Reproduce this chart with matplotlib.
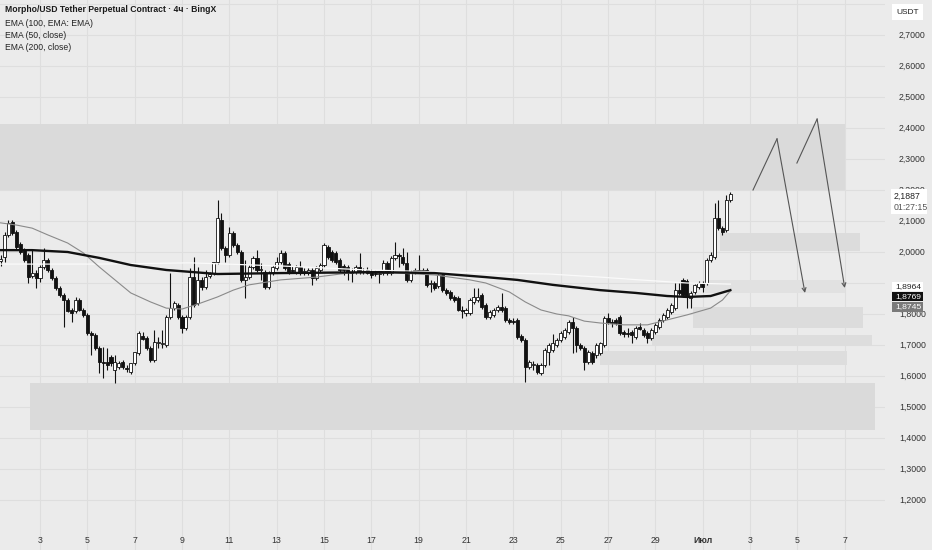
import numpy as np
import pandas as pd
import matplotlib
matplotlib.use('Agg')
import matplotlib.pyplot as plt
import matplotlib.dates as mdates
from matplotlib.patches import Rectangle
from matplotlib.transforms import blended_transform_factory

plt.rcParams['font.family'] = ['Liberation Sans', 'DejaVu Sans']

# 4h candles, Morpho/USDT perp (BingX)
opens = [
    1.971, 1.984, 2.055, 2.097, 2.065, 2.026, 2.006, 1.990, 1.923, 1.932,
    1.916, 1.952, 1.974, 1.942, 1.916, 1.884, 1.861, 1.845, 1.813, 1.810,
    1.845, 1.813, 1.797, 1.739, 1.732, 1.690, 1.645, 1.645, 1.661, 1.619,
    1.629, 1.645, 1.626, 1.613, 1.642, 1.674, 1.729, 1.723, 1.690, 1.652,
    1.706, 1.703, 1.700, 1.790, 1.819, 1.829, 1.790, 1.755, 1.790, 1.919,
    1.835, 1.910, 1.887, 1.923, 1.932, 1.968, 2.103, 2.013, 1.990, 2.061,
    2.023, 2.000, 1.910, 1.919, 1.952, 1.981, 1.942, 1.935, 1.887, 1.932,
    1.948, 1.968, 1.997, 1.961, 1.942, 1.935, 1.952, 1.935, 1.932, 1.942,
    1.916, 1.942, 1.958, 2.016, 2.000, 1.997, 1.974, 1.955, 1.952, 1.935,
    1.935, 1.952, 1.939, 1.942, 1.935, 1.932, 1.929, 1.932, 1.965, 1.932,
    1.981, 1.990, 1.984, 1.965, 1.910, 1.939, 1.942, 1.939, 1.942, 1.897,
    1.900, 1.890, 1.926, 1.877, 1.871, 1.855, 1.852, 1.813, 1.803, 1.803,
    1.839, 1.845, 1.861, 1.829, 1.790, 1.797, 1.813, 1.823, 1.819, 1.781,
    1.777, 1.781, 1.729, 1.716, 1.629, 1.635, 1.635, 1.610, 1.635, 1.677,
    1.684, 1.700, 1.716, 1.726, 1.742, 1.774, 1.755, 1.700, 1.690, 1.645,
    1.674, 1.668, 1.674, 1.700, 1.787, 1.774, 1.781, 1.790, 1.742, 1.739,
    1.742, 1.726, 1.758, 1.748, 1.739, 1.723, 1.742, 1.758, 1.781, 1.790,
    1.806, 1.819, 1.877, 1.910, 1.906, 1.852, 1.871, 1.887, 1.900, 1.900,
    1.974, 1.984, 2.110, 2.077, 2.071, 2.168]
highs = [
    1.990, 2.065, 2.103, 2.103, 2.071, 2.032, 2.013, 1.997, 2.006, 1.942,
    1.958, 2.013, 1.981, 1.948, 1.923, 1.890, 1.868, 1.852, 1.819, 1.855,
    1.852, 1.819, 1.803, 1.745, 1.739, 1.697, 1.694, 1.690, 1.668, 1.668,
    1.648, 1.652, 1.635, 1.642, 1.677, 1.745, 1.742, 1.729, 1.697, 1.748,
    1.726, 1.748, 1.797, 1.932, 1.842, 1.835, 1.797, 1.797, 1.948, 1.984,
    1.952, 1.919, 1.942, 1.935, 1.968, 2.168, 2.126, 2.019, 2.081, 2.068,
    2.029, 2.006, 1.974, 1.958, 1.987, 2.006, 1.965, 1.942, 1.939, 1.958,
    1.984, 2.006, 2.003, 1.968, 1.955, 1.958, 1.971, 1.948, 1.948, 1.948,
    1.955, 1.965, 2.029, 2.023, 2.006, 2.003, 1.981, 1.961, 1.958, 1.948,
    1.958, 1.997, 1.948, 1.952, 1.945, 1.942, 1.939, 1.974, 1.971, 1.987,
    2.032, 1.997, 2.013, 2.000, 1.942, 1.948, 1.990, 1.948, 1.948, 1.910,
    1.906, 1.929, 1.932, 1.884, 1.877, 1.861, 1.858, 1.826, 1.819, 1.852,
    1.884, 1.884, 1.868, 1.835, 1.813, 1.819, 1.829, 1.868, 1.826, 1.787,
    1.787, 1.787, 1.735, 1.723, 1.652, 1.648, 1.642, 1.642, 1.690, 1.706,
    1.735, 1.723, 1.745, 1.755, 1.781, 1.790, 1.761, 1.706, 1.697, 1.684,
    1.681, 1.706, 1.710, 1.794, 1.803, 1.784, 1.787, 1.797, 1.748, 1.755,
    1.748, 1.761, 1.771, 1.755, 1.745, 1.755, 1.771, 1.787, 1.803, 1.819,
    1.835, 1.900, 1.900, 1.916, 1.913, 1.874, 1.897, 1.906, 1.906, 1.981,
    2.000, 2.158, 2.168, 2.084, 2.184, 2.194]
lows = [
    1.955, 1.968, 2.048, 2.055, 2.006, 1.994, 1.968, 1.900, 1.916, 1.884,
    1.903, 1.945, 1.935, 1.910, 1.877, 1.855, 1.758, 1.806, 1.774, 1.803,
    1.810, 1.790, 1.732, 1.668, 1.684, 1.610, 1.594, 1.619, 1.632, 1.577,
    1.623, 1.623, 1.613, 1.606, 1.635, 1.668, 1.716, 1.684, 1.645, 1.645,
    1.690, 1.690, 1.694, 1.784, 1.813, 1.784, 1.739, 1.748, 1.784, 1.823,
    1.829, 1.877, 1.881, 1.916, 1.926, 1.961, 2.006, 1.968, 1.984, 2.016,
    1.994, 1.903, 1.852, 1.913, 1.945, 1.935, 1.910, 1.881, 1.881, 1.926,
    1.942, 1.961, 1.942, 1.929, 1.932, 1.929, 1.926, 1.926, 1.926, 1.894,
    1.910, 1.935, 1.952, 1.977, 1.968, 1.961, 1.935, 1.926, 1.910, 1.903,
    1.929, 1.929, 1.929, 1.929, 1.916, 1.923, 1.900, 1.926, 1.926, 1.926,
    1.974, 1.952, 1.958, 1.903, 1.903, 1.929, 1.932, 1.929, 1.887, 1.871,
    1.877, 1.884, 1.871, 1.861, 1.845, 1.839, 1.810, 1.787, 1.794, 1.797,
    1.832, 1.839, 1.816, 1.784, 1.784, 1.790, 1.806, 1.806, 1.774, 1.768,
    1.768, 1.719, 1.710, 1.581, 1.623, 1.619, 1.606, 1.603, 1.629, 1.635,
    1.677, 1.694, 1.710, 1.719, 1.735, 1.674, 1.677, 1.684, 1.619, 1.639,
    1.639, 1.658, 1.668, 1.694, 1.768, 1.758, 1.765, 1.732, 1.726, 1.726,
    1.706, 1.719, 1.748, 1.726, 1.706, 1.716, 1.735, 1.752, 1.774, 1.784,
    1.800, 1.813, 1.861, 1.855, 1.819, 1.819, 1.864, 1.881, 1.871, 1.894,
    1.968, 1.977, 2.071, 2.055, 2.065, 2.161]
closes = [
    1.977, 2.055, 2.094, 2.061, 2.016, 2.000, 1.974, 1.919, 1.932, 1.916,
    1.952, 1.974, 1.942, 1.916, 1.884, 1.861, 1.845, 1.810, 1.803, 1.845,
    1.813, 1.797, 1.739, 1.732, 1.690, 1.645, 1.642, 1.635, 1.642, 1.645,
    1.642, 1.629, 1.623, 1.642, 1.677, 1.739, 1.719, 1.690, 1.652, 1.710,
    1.710, 1.706, 1.790, 1.819, 1.835, 1.790, 1.755, 1.790, 1.919, 1.829,
    1.910, 1.887, 1.919, 1.929, 1.968, 2.110, 2.013, 1.990, 2.061, 2.023,
    2.000, 1.910, 1.919, 1.952, 1.981, 1.942, 1.945, 1.887, 1.932, 1.952,
    1.968, 1.997, 1.948, 1.935, 1.939, 1.952, 1.932, 1.939, 1.942, 1.916,
    1.948, 1.958, 2.023, 1.984, 1.974, 1.968, 1.942, 1.942, 1.935, 1.932,
    1.952, 1.935, 1.935, 1.932, 1.926, 1.929, 1.932, 1.965, 1.932, 1.981,
    1.990, 1.987, 1.965, 1.910, 1.935, 1.942, 1.939, 1.942, 1.894, 1.900,
    1.884, 1.926, 1.877, 1.868, 1.852, 1.845, 1.813, 1.810, 1.813, 1.845,
    1.855, 1.855, 1.823, 1.790, 1.806, 1.813, 1.823, 1.813, 1.781, 1.774,
    1.774, 1.726, 1.716, 1.629, 1.645, 1.639, 1.613, 1.635, 1.684, 1.700,
    1.706, 1.716, 1.739, 1.748, 1.774, 1.755, 1.700, 1.690, 1.645, 1.677,
    1.645, 1.700, 1.706, 1.787, 1.774, 1.771, 1.771, 1.739, 1.735, 1.735,
    1.732, 1.755, 1.752, 1.732, 1.723, 1.748, 1.765, 1.781, 1.797, 1.813,
    1.829, 1.877, 1.868, 1.861, 1.855, 1.868, 1.894, 1.900, 1.887, 1.974,
    1.990, 2.110, 2.077, 2.065, 2.168, 2.1887]

# EMA lines (candle index, value)
ema200_idx = [0, 8, 17, 25, 33, 42, 55, 71, 96, 110, 123, 131, 140, 152, 161, 169, 174, 180, 185]
ema200_val = [2.006, 2.006, 2.000, 1.981, 1.958, 1.942, 1.929, 1.932, 1.935, 1.932, 1.919,
              1.910, 1.894, 1.877, 1.868, 1.858, 1.855, 1.858, 1.8769]
ema50_idx = [0, 4, 8, 12, 17, 21, 25, 29, 33, 38, 42, 46, 50, 55, 59, 63, 71, 80, 88, 96,
             110, 119, 123, 129, 133, 137, 141, 144, 148, 152, 158, 164, 169, 174, 180, 183, 185]
ema50_val = [2.094, 2.087, 2.077, 2.055, 2.029, 1.997, 1.952, 1.910, 1.868, 1.839, 1.819,
             1.816, 1.832, 1.855, 1.877, 1.894, 1.910, 1.919, 1.932, 1.935, 1.926, 1.910,
             1.900, 1.871, 1.839, 1.813, 1.800, 1.794, 1.777, 1.771, 1.765, 1.765, 1.781,
             1.797, 1.819, 1.845, 1.8745]
ema100_idx = [0, 25, 48, 71, 93, 114, 139, 152, 162, 174, 185]
ema100_val = [1.961, 1.961, 1.965, 1.955, 1.942, 1.935, 1.929, 1.919, 1.910, 1.900, 1.8964]

# shaded zones: (start, end, low, high)
zones = [
    ('2025-05-31 00:00', '2025-07-07 00:00', 2.200, 2.413, '#dadada'),
    ('2025-07-01 17:30', '2025-07-07 15:20', 2.003, 2.061, '#dcdcdc'),
    ('2025-07-01 02:00', '2025-07-07 00:00', 1.868, 1.910, '#e1e1e1'),
    ('2025-06-30 14:00', '2025-07-07 18:30', 1.755, 1.823, '#dcdcdc'),
    ('2025-06-28 20:40', '2025-07-08 03:30', 1.697, 1.732, '#dddddd'),
    ('2025-06-26 16:00', '2025-07-07 02:00', 1.635, 1.681, '#dddddd'),
    ('2025-06-02 14:00', '2025-07-08 06:45', 1.426, 1.577, '#dadada'),
]

# projected moves
path1_t = ['2025-07-03 03:00', '2025-07-04 03:20', '2025-07-05 07:40']
path1_p = [2.200, 2.365, 1.868]
path2_t = ['2025-07-04 23:30', '2025-07-05 20:00', '2025-07-07 00:00']
path2_p = [2.287, 2.429, 1.884]

tick_dates = ['2025-06-%02d' % d for d in range(3, 30, 2)] + ['2025-07-01', '2025-07-03', '2025-07-05', '2025-07-07']
tick_labels = [str(d) for d in range(3, 30, 2)] + ['Июл', '3', '5', '7']
price_levels = [round(1.2 + 0.1 * k, 1) for k in range(16)]
hidden_levels = [1.9]   # covered by the EMA value tags

times = mdates.date2num(pd.date_range('2025-06-01 08:00', periods=len(closes), freq='4h'))
o = np.array(opens); h = np.array(highs); l = np.array(lows); c = np.array(closes)

bg = '#ebebeb'
fig = plt.figure(figsize=(9.32, 5.5), dpi=100)
fig.patch.set_facecolor(bg)
ax = fig.add_axes([0, 0, 885 / 932, 1])
ax.set_facecolor(bg)
for s in ax.spines.values():
    s.set_visible(False)
ax.set_xticks([])
ax.set_yticks([])
ax.set_xlim(mdates.date2num(pd.Timestamp('2025-06-01 07:26')), mdates.date2num(pd.Timestamp('2025-07-08 16:50')))
ax.set_ylim(1.0387, 2.8129)

# grid
for d in tick_dates:
    ax.axvline(mdates.date2num(pd.Timestamp(d)), color='#dedede', lw=0.8, zorder=0)
for p in price_levels + [2.8]:
    ax.axhline(p, color='#dedede', lw=0.8, zorder=0)

# zones
for t0, t1, lo, hi, col in zones:
    x0 = mdates.date2num(pd.Timestamp(t0)); x1 = mdates.date2num(pd.Timestamp(t1))
    ax.add_patch(Rectangle((x0, lo), x1 - x0, hi - lo, fc=col, ec='none', zorder=1))

# candles
w = 0.13
up = c >= o
ax.vlines(times, l, h, color='#111111', lw=0.8, zorder=3)
body_lo = np.minimum(o, c)
body_h = np.maximum(np.abs(c - o), 0.003)
ax.bar(times[up], body_h[up], bottom=body_lo[up], width=w, color='white', edgecolor='#111111', linewidth=0.6, zorder=4)
ax.bar(times[~up], body_h[~up], bottom=body_lo[~up], width=w, color='#111111', edgecolor='#111111', linewidth=0.6, zorder=4)

# EMAs
ax.plot(times[ema100_idx], ema100_val, color='#fafafa', lw=0.9, zorder=5)
ax.plot(times[ema50_idx], ema50_val, color='#8a8a8a', lw=0.8, zorder=5)
ax.plot(times[ema200_idx], ema200_val, color='#111111', lw=1.7, zorder=6)

# arrows
for pt, pp in [(path1_t, path1_p), (path2_t, path2_p)]:
    xs = mdates.date2num(pd.to_datetime(pt))
    ax.plot(xs[:2], pp[:2], color='#555555', lw=0.8, zorder=7)
    ax.annotate('', xy=(xs[2], pp[2]), xytext=(xs[1], pp[1]),
                arrowprops=dict(arrowstyle='->', color='#555555', lw=0.8, shrinkA=0, shrinkB=0,
                                mutation_scale=7), zorder=7)

# time axis labels
tr = blended_transform_factory(ax.transData, ax.transAxes)
for d, lab in zip(tick_dates, tick_labels):
    ax.text(mdates.date2num(pd.Timestamp(d)), 0.018, lab, transform=tr, ha='center', va='center',
            fontsize=6.3, color='#333333', fontweight='bold' if lab == 'Июл' else 'normal')

# price axis
tp = blended_transform_factory(ax.transAxes, ax.transData)
for p in price_levels:
    if p in hidden_levels:
        continue
    ax.text(899 / 885, p, ('%.4f' % p).replace('.', ','), transform=tp, ha='left', va='center',
            fontsize=6.3, color='#333333', clip_on=False)

# last-value tags, stacked like the platform does
def tag(val, ypos, fc, tc):
    ax.add_patch(Rectangle((892 / 885, ypos - 0.0153), 31 / 885, 0.0306, transform=tp, fc=fc, ec='none',
                           clip_on=False, zorder=9))
    ax.text(895 / 885, ypos, ('%.4f' % val).replace('.', ','), transform=tp, ha='left', va='center',
            fontsize=6.1, color=tc, clip_on=False, zorder=10)

tag(ema100_val[-1], 1.8887, 'white', '#222222')
tag(ema200_val[-1], 1.8565, '#111111', 'white')
tag(ema50_val[-1], 1.8226, '#7a7a7a', 'white')

ax.add_patch(Rectangle((891 / 885, 2.1226), 36 / 885, 0.0806, transform=tp, fc='white', ec='none',
                       clip_on=False, zorder=9))
ax.text(894 / 885, 2.179, ('%.4f' % closes[-1]).replace('.', ','), transform=tp, ha='left', va='center',
        fontsize=6.3, color='#222222', clip_on=False, zorder=10)
ax.text(894 / 885, 2.143, '01:27:15', transform=tp, ha='left', va='center',
        fontsize=6.3, color='#555555', clip_on=False, zorder=10)

fig.text(896 / 932, 1 - 12 / 550, 'USDT', ha='left', va='center', fontsize=6, color='#222222',
         bbox=dict(boxstyle='square,pad=0.5', fc='white', ec='none'))

# legend block
fig.text(5 / 932, 1 - 10 / 550, 'Morpho/USD Tether Perpetual Contract · 4ч · BingX', ha='left', va='center',
         fontsize=6.2, color='#1a1a1a', fontweight='bold')
for k, s in enumerate(['EMA (100, EMA: EMA)', 'EMA (50, close)', 'EMA (200, close)']):
    fig.text(5 / 932, 1 - (23 + 12 * k) / 550, s, ha='left', va='center', fontsize=6.2, color='#222222')

fig.savefig('out.png', dpi=100, facecolor=bg)
